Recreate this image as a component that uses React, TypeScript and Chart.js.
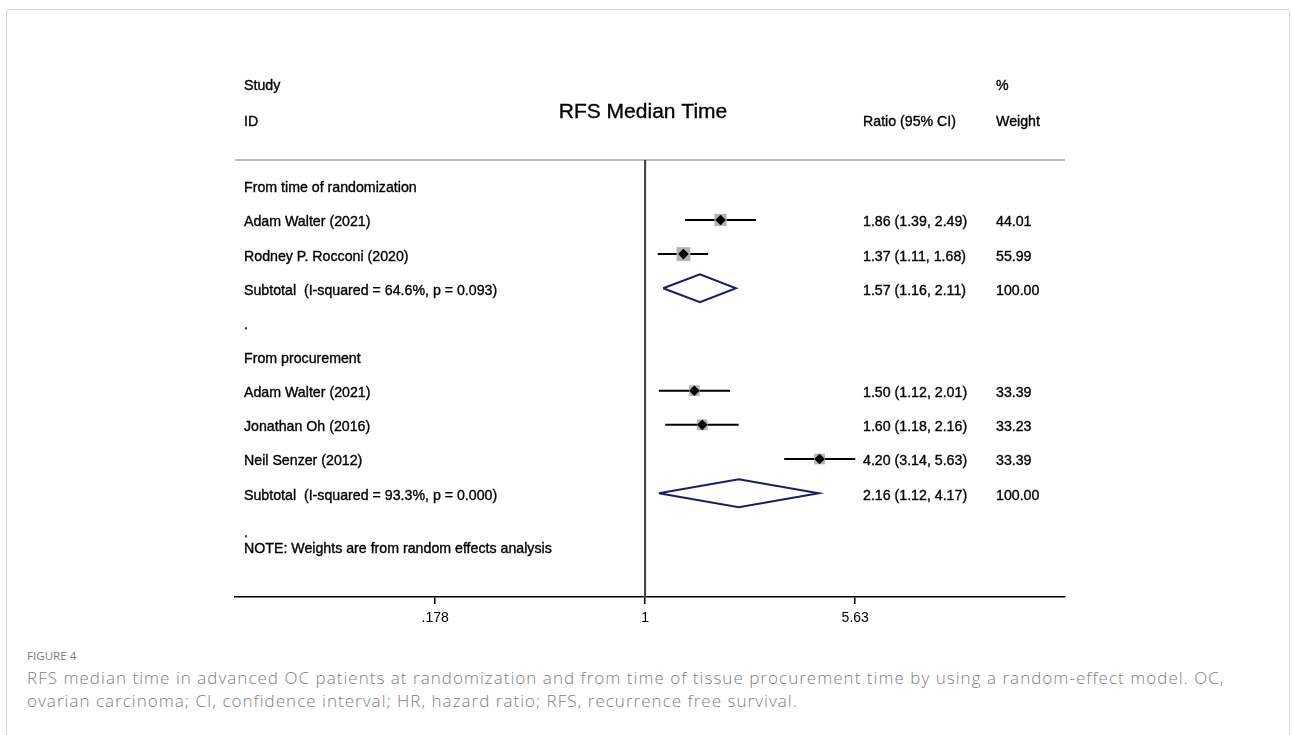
import React, { useEffect, useRef } from "react";
import { Chart, registerables } from "chart.js";

Chart.register(...registerables);

// ---- data ----
const rowLabels = [
  "From time of randomization",
  "Adam Walter (2021)",
  "Rodney P. Rocconi (2020)",
  "Subtotal  (I-squared = 64.6%, p = 0.093)",
  ".",
  "From procurement",
  "Adam Walter (2021)",
  "Jonathan Oh (2016)",
  "Neil Senzer (2012)",
  "Subtotal  (I-squared = 93.3%, p = 0.000)",
];
const studyRows = [1, 2, 6, 7, 8];
const studyEst = [1.86, 1.37, 1.5, 1.6, 4.2];
const studyLo = [1.39, 1.11, 1.12, 1.18, 3.14];
const studyHi = [2.49, 1.68, 2.01, 2.16, 5.63];
const studyWeight = [44.01, 55.99, 33.39, 33.23, 33.39];
const subRows = [3, 9];
const subEst = [1.57, 2.16];
const subLo = [1.16, 1.12];
const subHi = [2.11, 4.17];
const subWeight = [100.0, 100.0];
const noteRow = 10;
const noteText = "NOTE: Weights are from random effects analysis";
const xTicks = [0.178, 1, 5.63];
const xTickLabels = [".178", "1", "5.63"];
const title = "RFS Median Time";

// axis ranges
const X_MIN = 0.0343;
const X_MAX = 31.6;
const Y_MIN = -0.755;
const Y_MAX = 12.04;

const FONT = "'Liberation Sans', Arial, Helvetica, sans-serif";

const fmt = (e: number, l: number, h: number) =>
  `${e.toFixed(2)} (${l.toFixed(2)}, ${h.toFixed(2)})`;

const textPlugin = {
  id: "forestText",
  afterDraw(chart: any) {
    const ctx = chart.ctx as CanvasRenderingContext2D;
    const ys = chart.scales.y;
    const colL = 244;
    const colR = 863;
    const colW = 996;
    const off = 2.5;
    const put = (t: string, x: number, y: number) => {
      ctx.strokeText(t, x, y);
      ctx.fillText(t, x, y);
    };
    ctx.save();
    ctx.fillStyle = "#000";
    ctx.strokeStyle = "#000";
    ctx.lineWidth = 0.35;
    ctx.textBaseline = "middle";
    ctx.textAlign = "left";
    ctx.font = `14.2px ${FONT}`;
    // headers
    put("Study", colL, 86.5);
    put("ID", colL, 122.5);
    put("%", colW, 86.5);
    put("Weight", colW, 122);
    put("Ratio (95% CI)", colR, 122);
    ctx.textAlign = "center";
    ctx.font = `21px ${FONT}`;
    put(title, 643, 112);
    ctx.textAlign = "left";
    ctx.font = `14.2px ${FONT}`;
    rowLabels.forEach((t, i) => {
      put(t, colL, ys.getPixelForValue(i) + off);
    });
    studyRows.forEach((r, i) => {
      const y = ys.getPixelForValue(r) + off;
      put(fmt(studyEst[i], studyLo[i], studyHi[i]), colR, y);
      put(studyWeight[i].toFixed(2), colW, y);
    });
    subRows.forEach((r, i) => {
      const y = ys.getPixelForValue(r) + off;
      put(fmt(subEst[i], subLo[i], subHi[i]), colR, y);
      put(subWeight[i].toFixed(2), colW, y);
    });
    const ny = ys.getPixelForValue(noteRow);
    put(".", colL, ny + 5.5);
    put(noteText, colL, ny + 21.5);
    ctx.restore();
  },
};

export default function App() {
  const ref = useRef<HTMLCanvasElement | null>(null);

  useEffect(() => {
    if (!ref.current) return;
    const datasets: any[] = [];
    // reference line at 1
    datasets.push({
      data: [
        { x: 1, y: Y_MIN },
        { x: 1, y: Y_MAX },
      ],
      showLine: true,
      borderColor: "#3c3c3c",
      borderWidth: 2,
      pointRadius: 0,
      clip: false,
      order: 10,
    });
    // top rule
    datasets.push({
      data: [
        { x: X_MIN, y: Y_MIN },
        { x: X_MAX, y: Y_MIN },
      ],
      showLine: true,
      borderColor: "#a8a8a8",
      borderWidth: 1.5,
      pointRadius: 0,
      clip: false,
      order: 10,
    });
    // CI lines
    studyRows.forEach((r, i) => {
      datasets.push({
        data: [
          { x: studyLo[i], y: r },
          { x: studyHi[i], y: r },
        ],
        showLine: true,
        borderColor: "#000",
        borderWidth: 2,
        pointRadius: 0,
        clip: false,
        order: 5,
      });
    });
    // weight boxes
    datasets.push({
      data: studyRows.map((r, i) => ({ x: studyEst[i], y: r })),
      pointStyle: "rect",
      pointRadius: studyWeight.map((w) => (1.85 * Math.sqrt(w)) / Math.SQRT2),
      backgroundColor: "#b3b3b3",
      borderColor: "#c4c4c4",
      borderWidth: 0,
      showLine: false,
      order: 2,
    });
    // point estimates
    datasets.push({
      data: studyRows.map((r, i) => ({ x: studyEst[i], y: r })),
      pointStyle: "rectRot",
      pointRadius: 5.3,
      backgroundColor: "#000",
      borderColor: "#000",
      borderWidth: 0,
      showLine: false,
      order: 0,
    });
    // subtotal diamonds
    subRows.forEach((r, i) => {
      const h = 0.41;
      datasets.push({
        data: [
          { x: subLo[i], y: r },
          { x: subEst[i], y: r - h },
          { x: subHi[i], y: r },
          { x: subEst[i], y: r + h },
          { x: subLo[i], y: r },
        ],
        showLine: true,
        borderColor: "#1a1a70",
        borderWidth: 2,
        pointRadius: 0,
        fill: false,
        tension: 0,
        clip: false,
        order: 3,
      });
    });

    const chart = new Chart(ref.current, {
      type: "scatter",
      data: { datasets },
      options: {
        animation: false,
        responsive: false,
        events: [],
        layout: { padding: { left: 235, right: 227, top: 160, bottom: 3 } },
        plugins: { legend: { display: false }, tooltip: { enabled: false } },
        scales: {
          x: {
            type: "logarithmic",
            min: X_MIN,
            max: X_MAX,
            afterBuildTicks: (s: any) => {
              s.ticks = xTicks.map((v) => ({ value: v }));
            },
            afterFit: (s: any) => {
              s.height = 40;
            },
            ticks: {
              autoSkip: false,
              maxRotation: 0,
              padding: 6,
              color: "#000",
              font: { family: FONT, size: 14 },
              callback: (v: any) => {
                const idx = xTicks.findIndex((t) => Math.abs(t - Number(v)) < 1e-6);
                return idx >= 0 ? xTickLabels[idx] : "";
              },
            },
            grid: {
              drawOnChartArea: false,
              drawTicks: true,
              tickLength: 7,
              color: "#000",
              lineWidth: 1.5,
            },
            border: { display: true, color: "#000", width: 1.5 },
          },
          y: {
            type: "linear",
            reverse: true,
            min: Y_MIN,
            max: Y_MAX,
            display: false,
          },
        },
      },
      plugins: [textPlugin],
    });
    return () => chart.destroy();
  }, []);

  return (
    <div style={{ position: "absolute", left: 0, top: 0, width: 1292, height: 735, overflow: "hidden", background: "#fff" }}>
      <div
        style={{
          position: "absolute",
          left: 6,
          top: 9,
          width: 1282,
          height: 760,
          border: "1px solid #d6d6d6",
          borderRadius: 3,
        }}
      />
      <canvas ref={ref} width={1292} height={640} style={{ position: "absolute", left: 0, top: 0 }} />
      <div
        style={{
          position: "absolute",
          left: 27,
          top: 647,
          width: 1250,
          fontFamily: "'Open Sans', sans-serif",
          color: "#808080",
        }}
      >
        <div style={{ fontSize: 11.6, lineHeight: "18px", fontWeight: 500, color: "#7a7a7a" }}>FIGURE 4</div>
        <div style={{ fontSize: 17, lineHeight: "23px", fontWeight: 300, marginTop: 1, whiteSpace: "nowrap", letterSpacing: "1.03px" }}>
          RFS median time in advanced OC patients at randomization and from time of tissue procurement time by using a random-effect model. OC,
          <br />
          ovarian carcinoma; CI, confidence interval; HR, hazard ratio; RFS, recurrence free survival.
        </div>
      </div>
    </div>
  );
}
